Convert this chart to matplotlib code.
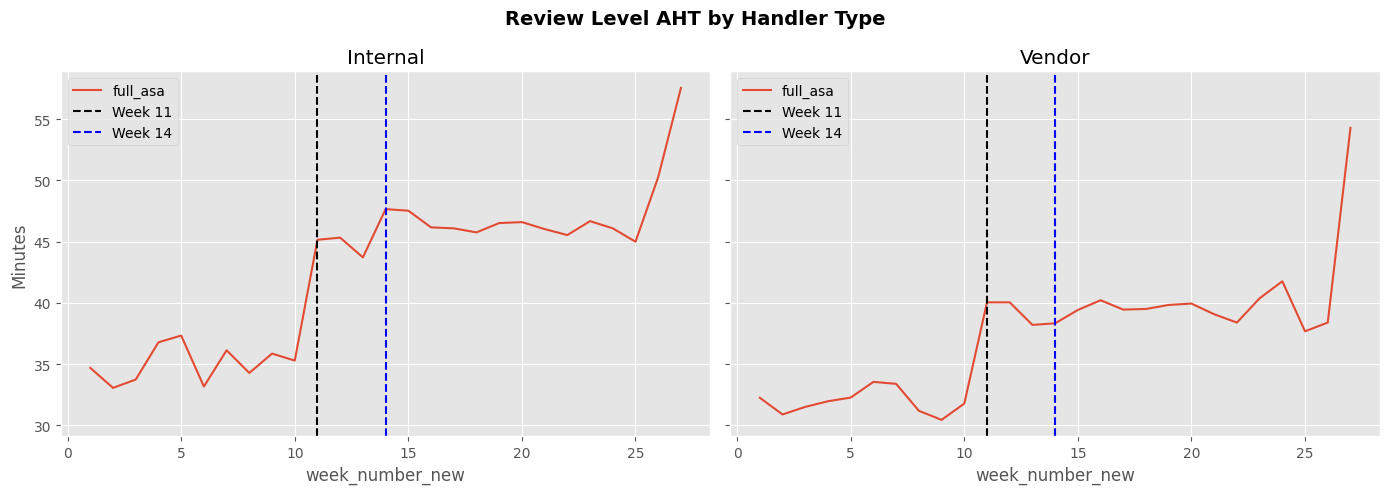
import matplotlib
matplotlib.use("Agg")
import matplotlib.pyplot as plt

weeks = list(range(1, 28))
internal_asa = [34.70, 33.07, 33.75, 36.79, 37.34, 33.18, 36.14, 34.29, 35.87, 35.30,
                45.16, 45.33, 43.72, 47.66, 47.53, 46.17, 46.09, 45.76, 46.52, 46.60,
                46.03, 45.54, 46.68, 46.09, 45.00, 50.27, 57.55]
vendor_asa = [32.26, 30.90, 31.52, 31.98, 32.28, 33.56, 33.40, 31.20, 30.46, 31.79,
              40.05, 40.05, 38.21, 38.34, 39.43, 40.22, 39.46, 39.51, 39.84, 39.95,
              39.08, 38.40, 40.38, 41.77, 37.69, 38.40, 54.29]
handlers = ["Internal", "Vendor"]
series = [internal_asa, vendor_asa]

plt.style.use("ggplot")
fig, axes = plt.subplots(1, 2, figsize=(14, 5), dpi=100, sharey=True)

for ax, name, vals in zip(axes, handlers, series):
    ax.plot(weeks, vals, label="full_asa")
    ax.axvline(11, color="black", linestyle="--", label="Week 11")
    ax.axvline(14, color="blue", linestyle="--", label="Week 14")
    ax.set_title(name)
    ax.set_xlabel("week_number_new")
    ax.legend(loc="upper left")

axes[0].set_ylabel("Minutes")
fig.suptitle("Review Level AHT by Handler Type", fontsize=14, fontweight="bold")
plt.tight_layout()
plt.savefig("out.png", bbox_inches="tight")
